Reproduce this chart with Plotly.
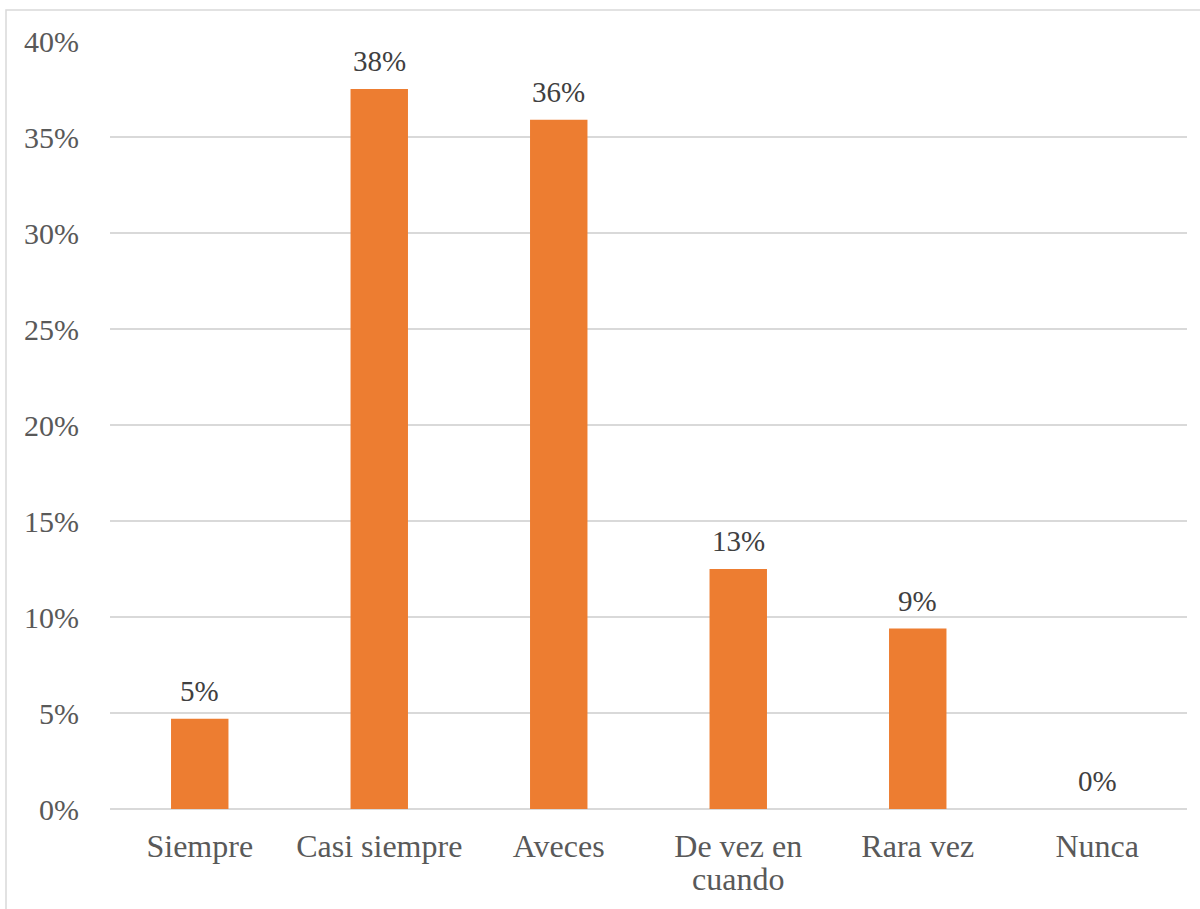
import plotly.graph_objects as go

categories = ["Siempre", "Casi siempre", "Aveces", "De vez en cuando", "Rara vez", "Nunca"]
tick_line1 = ["Siempre", "Casi siempre", "Aveces", "De vez en", "Rara vez", "Nunca"]
tick_line2 = ["", "", "", "cuando", "", ""]
values = [4.7, 37.5, 35.9, 12.5, 9.4, 0.0]
value_labels = ["5%", "38%", "36%", "13%", "9%", "0%"]
y_ticks = [0, 5, 10, 15, 20, 25, 30, 35, 40]
y_tick_labels = ["0%", "5%", "10%", "15%", "20%", "25%", "30%", "35%", "40%"]

W, H = 1200, 909
ML, MR, MT, MB = 110, 13, 41, 100
FONT = "Liberation Serif, Times New Roman, serif"

fig = go.Figure()
fig.add_trace(go.Bar(
    x=categories, y=values,
    marker=dict(color="#ED7D31", line=dict(width=0)),
    width=0.32,
    hoverinfo="skip",
))

for c, v, t in zip(categories, values, value_labels):
    fig.add_annotation(
        x=c, y=v, text=t, showarrow=False,
        yanchor="bottom", yshift=10,
        font=dict(family=FONT, size=29, color="#404040"),
    )

for c, t in zip(categories, tick_line2):
    if t:
        fig.add_annotation(
            x=c, y=0, text=t, showarrow=False,
            yanchor="top", yshift=-50,
            font=dict(family=FONT, size=32, color="#595959"),
        )

pw = W - ML - MR
ph = H - MT - MB
fig.add_shape(
    type="rect", xref="paper", yref="paper",
    x0=(6 - ML) / pw, x1=(1210 - ML) / pw,
    y0=-(H + 10 - MT - ph) / ph, y1=1 + (MT - 10) / ph,
    line=dict(color="#D9D9D9", width=1.5), fillcolor="rgba(0,0,0,0)",
    layer="below",
)

fig.update_layout(
    width=W, height=H,
    margin=dict(l=ML, r=MR, t=MT, b=MB, pad=0),
    paper_bgcolor="white", plot_bgcolor="white",
    showlegend=False,
    font=dict(family=FONT, size=30, color="#595959"),
    xaxis=dict(
        tickvals=categories, ticktext=tick_line1,
        showgrid=False, showline=False, zeroline=False, automargin=False,
        ticks="", tickfont=dict(family=FONT, size=32, color="#595959"),
        ticklabelstandoff=15,
    ),
    yaxis=dict(
        range=[0, 40], tickvals=y_ticks, ticktext=y_tick_labels,
        showgrid=True, gridcolor="#D9D9D9", gridwidth=1.5,
        zeroline=True, zerolinecolor="#D9D9D9", zerolinewidth=1.5,
        showline=False, ticks="", automargin=False,
        tickfont=dict(family=FONT, size=30, color="#595959"),
        ticklabelstandoff=30,
    ),
)

fig.write_html(
    "out.html",
    config={"displayModeBar": False, "staticPlot": True},
    post_script="document.body.style.margin='0';document.body.style.overflow='hidden';",
)
